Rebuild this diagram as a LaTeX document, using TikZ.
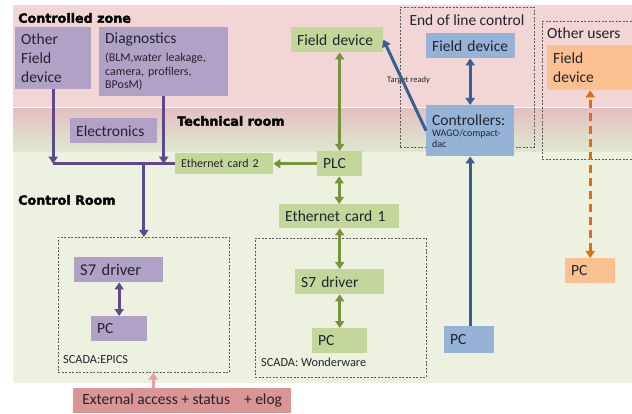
\documentclass[tikz,border=0pt]{standalone}
\usepackage{fontspec}
\setmainfont{Carlito}
\newfontfamily\headfont{DejaVu Sans}[FakeBold=2.5]
\usepackage{tikz}
\usetikzlibrary{arrows.meta, positioning, calc}

\definecolor{zonepink}{RGB}{242,214,214}
\definecolor{techpink}{RGB}{228,192,193}
\definecolor{techgreen}{RGB}{222,233,207}
\definecolor{roomgreen}{RGB}{236,241,224}
\definecolor{boxpurple}{RGB}{178,161,199}
\definecolor{linepurple}{RGB}{96,73,139}
\definecolor{boxgreen}{RGB}{196,215,155}
\definecolor{linegreen}{RGB}{119,147,60}
\definecolor{boxblue}{RGB}{149,179,215}
\definecolor{lineblue}{RGB}{55,96,146}
\definecolor{boxorange}{RGB}{250,192,144}
\definecolor{lineorange}{RGB}{228,108,10}
\definecolor{boxred}{RGB}{217,150,148}
\definecolor{linepink}{RGB}{232,160,160}
\definecolor{textdark}{RGB}{35,35,45}

\tikzstyle{unit} = [
  rectangle, anchor=north west, inner xsep=6pt, inner ysep=0pt,
  align=left, text=textdark, font=\fontsize{15.5}{19}\selectfont
]
\tikzstyle{scada} = [
  rectangle, anchor=north west, draw=black!65, line width=0.7pt,
  dash pattern=on 2pt off 1.5pt, inner sep=0pt
]
\tikzstyle{zonetitle} = [
  anchor=west, inner sep=0pt, text=black,
  font=\headfont\bfseries\fontsize{12.7}{14}\selectfont
]
\tikzstyle{wire} = [line width=3pt]
\tikzstyle{oneway} = [wire, -{Triangle[length=7pt,width=9pt]}]
\tikzstyle{twoway} = [wire, {Triangle[length=7pt,width=9pt]}-{Triangle[length=7pt,width=9pt]}]

\begin{document}
\begin{tikzpicture}[x=1pt, y=-1pt]
  \useasboundingbox (0,0) rectangle (632,414);
  \clip (0,0) rectangle (632,414);

  % Zones
  \fill[zonepink] (13,5) rectangle (632,107);
  \shade[top color=techpink, bottom color=techgreen] (13,109) rectangle (632,152);
  \fill[roomgreen] (13,152) rectangle (632,383);
  \node[zonetitle] (zctrl) at (18,18) {Controlled zone};
  \node[zonetitle] (ztech) at (177,121) {Technical room};
  \node[zonetitle] (zroom) at (18,200) {Control Room};

  % Dashed groups
  \node[scada, minimum width=171, minimum height=135] (epics) at (58,237) {};
  \node[scada, minimum width=171, minimum height=139] (wonder) at (255,238) {};
  \node[scada, minimum width=134, minimum height=140] (endline) at (400,7) {};
  \node[scada, minimum width=100, minimum height=138] (others) at (542,21) {};
  \node[unit, anchor=center] (tend) at (467,20) {End of line control};
  \node[unit, anchor=west, inner xsep=0pt] (toth) at (547,33) {Other users};
  \node[unit, anchor=west, inner xsep=0pt, font=\fontsize{12.3}{14}\selectfont] (tepics) at (63,360) {SCADA:EPICS};
  \node[unit, anchor=west, inner xsep=0pt, font=\fontsize{12.3}{14}\selectfont] (twonder) at (261,362) {SCADA: Wonderware};

  % Purple (EPICS side)
  \node[unit, fill=boxpurple, text width=64pt, minimum height=62pt] (other) at (15,27) {Other\\Field\\device};
  \node[unit, fill=boxpurple, text width=117pt, minimum height=69pt, font=\fontsize{12}{13.5}\selectfont] (diag) at (99,27)
    {{\fontsize{15.5}{17}\selectfont Diagnostics}\\[5pt](BLM,water leakage,\\camera, profilers,\\BPosM)};
  \node[unit, fill=boxpurple, text width=75pt, minimum height=25pt] (elec) at (70,118) {Electronics};
  \node[unit, fill=boxpurple, text width=77pt, minimum height=25pt, font=\fontsize{16.5}{19}\selectfont] (s7p) at (74,257) {S7 driver};
  \node[unit, fill=boxpurple, text width=44pt, minimum height=25pt] (pcp) at (91,316) {PC};

  % Green (Wonderware side)
  \node[unit, fill=boxgreen, text width=80pt, minimum height=25pt] (fdg) at (291,27) {Field device};
  \node[unit, fill=boxgreen, text width=86pt, minimum height=21pt, font=\fontsize{12}{14}\selectfont] (eth2) at (175,153) {Ethernet card 2};
  \node[unit, fill=boxgreen, text width=33pt, minimum height=25pt] (plc) at (317,151) {PLC};
  \node[unit, fill=boxgreen, text width=108pt, minimum height=24pt] (eth1) at (279,204) {Ethernet card 1};
  \node[unit, fill=boxgreen, text width=77pt, minimum height=25pt] (s7g) at (295,269) {S7 driver};
  \node[unit, fill=boxgreen, text width=43pt, minimum height=25pt] (pcg) at (312,328) {PC};

  % Blue (end of line)
  \node[unit, fill=boxblue, text width=77pt, minimum height=25pt] (fdb) at (426,33) {Field device};
  \node[unit, fill=boxblue, text width=76pt, minimum height=51pt, font=\fontsize{10}{10.5}\selectfont] (ctrl) at (426,105)
    {{\fontsize{15.5}{16}\selectfont Controllers:}\\[1pt]WAGO/compact-\\dac};
  \node[unit, fill=boxblue, text width=38pt, minimum height=27pt] (pcb) at (444,326) {PC};
  \node[anchor=west, inner sep=0pt, text=textdark, font=\fontsize{8.5}{10}\selectfont] (tready) at (387,80) {Target ready};

  % Orange (other users)
  \node[unit, fill=boxorange, text width=80pt, minimum height=45pt] (fdo) at (547,45) {Field\\device};
  \node[unit, fill=boxorange, text width=38pt, minimum height=25pt] (pco) at (565,258) {PC};

  % External access
  \node[unit, fill=boxred, inner xsep=0pt, minimum width=218pt, minimum height=25pt, align=center] (ext) at (73,388) {External access + status\hspace{0.9em}+ elog};

  % Purple connections
  \coordinate (busL) at (other.south |- eth2.west);
  \coordinate (busD) at (diag.south |- eth2.west);
  \coordinate (busT) at (epics.north |- eth2.west);
  \draw[wire, linepurple] (busL) -- (eth2.west);
  \draw[oneway, linepurple] (other) -- (busL);
  \draw[oneway, linepurple] (diag) -- (busD);
  \draw[oneway, linepurple] (busT) -- (epics.north);
  \draw[twoway, linepurple] (s7p.south -| pcp.north) -- (pcp.north);

  % Green connections
  \draw[twoway, linegreen] (plc.north |- fdg.south) -- (plc.north);
  \draw[oneway, linegreen] (plc) -- (eth2);
  \foreach \a/\b in {plc/eth1, eth1/s7g, s7g/pcg}
    \draw[twoway, linegreen] (\b.north |- \a.south) -- (\b.north);

  % Blue connections
  \draw[twoway, lineblue] (fdb.south -| ctrl.north) -- (ctrl.north);
  \draw[oneway, lineblue] (ctrl.west) -- (fdg.east);
  \draw[oneway, lineblue] (pcb.north -| ctrl.south) -- (ctrl.south);

  % Orange connection
  \draw[twoway, lineorange, dash pattern=on 8pt off 5pt] (pco.north) -- (pco.north |- fdo.south);

  % External access
  \draw[oneway, linepink] ([xshift=-29pt]ext.north) -- ([xshift=-29pt]ext.north |- epics.south);

\end{tikzpicture}
\end{document}
